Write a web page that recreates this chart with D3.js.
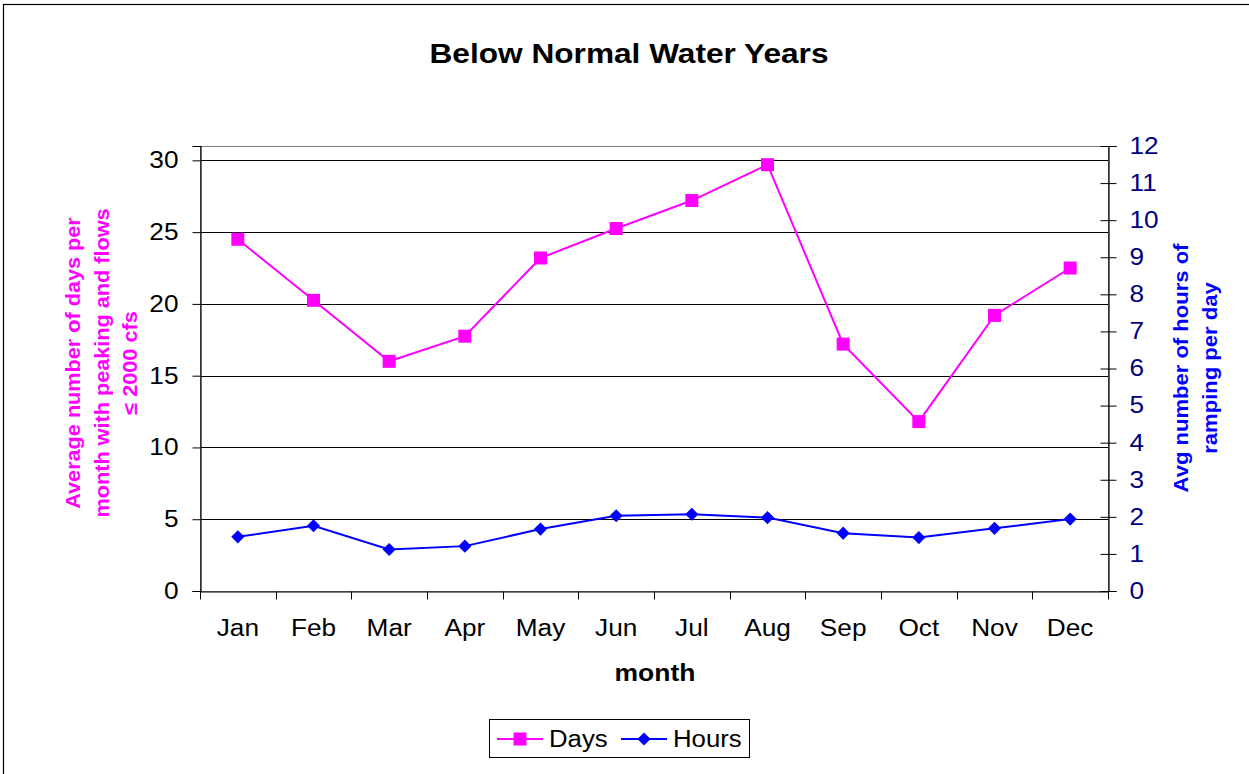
<!DOCTYPE html>
<html>
<head>
<meta charset="utf-8">
<script src="https://cdn.jsdelivr.net/npm/d3@7"></script>
<style>
    body { margin: 0; background: #fff; }
    svg { font-family: Arial, 'Liberation Sans', sans-serif; }
</style>
</head>
<body>
<div id="chart"></div>
<script>
// Chart data
var months = ['Jan', 'Feb', 'Mar', 'Apr', 'May', 'Jun', 'Jul', 'Aug', 'Sep', 'Oct', 'Nov', 'Dec'];
var days = [24.5, 20.25, 16.0, 17.75, 23.2, 25.25, 27.2, 29.7, 17.2, 11.8, 19.2, 22.5];
var hours = [1.46, 1.76, 1.12, 1.21, 1.67, 2.03, 2.07, 1.98, 1.56, 1.44, 1.69, 1.94];
var leftTicks = [0, 5, 10, 15, 20, 25, 30];
var rightTicks = [0, 1, 2, 3, 4, 5, 6, 7, 8, 9, 10, 11, 12];

// Layout
var width = 1249, height = 774,
    plotLeft = 200, plotRight = 1108,
    plotTop = 146, plotBottom = 591,
    daysColor = '#FF00FF', hoursColor = '#0000FF',
    tickFontSize = 23,
    widen = 1.14;

// Widen text along its own direction (the original font renders wider than Arial here)
function stretch(selection, factor) {
    selection.each(function() {
        var len = this.getComputedTextLength();
        d3.select(this)
            .attr('textLength', len * factor)
            .attr('lengthAdjust', 'spacingAndGlyphs');
    });
}

var svg = d3.select('#chart')
    .append('svg')
    .attr('width', width)
    .attr('height', height);

// Outer chart border
svg.append('rect')
    .attr('x', 3.5)
    .attr('y', 4.5)
    .attr('width', 1300)
    .attr('height', 900)
    .style('fill', '#fff')
    .style('stroke', '#000')
    .style('stroke-width', '1.2px');

// Scales
var x = d3.scaleBand()
    .domain(months)
    .range([plotLeft, plotRight]);
var yLeft = d3.scaleLinear()
    .domain([0, 31])
    .range([plotBottom, plotTop]);
var yRight = d3.scaleLinear()
    .domain([0, 12])
    .range([plotBottom, plotTop]);

// Gridlines
svg.append('g')
    .selectAll('line')
    .data(leftTicks.filter(d => d > 0))
    .enter()
    .append('line')
        .attr('x1', plotLeft)
        .attr('x2', plotRight)
        .attr('y1', d => Math.round(yLeft(d)) + 0.5)
        .attr('y2', d => Math.round(yLeft(d)) + 0.5)
        .style('stroke', '#000')
        .style('stroke-width', '1px');

// Plot area border
svg.append('rect')
    .attr('x', plotLeft + 0.5)
    .attr('y', plotTop + 0.5)
    .attr('width', plotRight - plotLeft)
    .attr('height', plotBottom - plotTop)
    .style('fill', 'none')
    .style('stroke', '#808080')
    .style('stroke-width', '1px');

// Left axis
var leftAxis = svg.append('g')
    .attr('transform', 'translate(' + (plotLeft + 0.5) + ',0)')
    .call(d3.axisLeft(yLeft).tickValues(leftTicks).tickSize(8).tickPadding(14));
leftAxis.selectAll('text')
    .style('font-size', tickFontSize + 'px')
    .style('fill', '#000')
    .call(stretch, widen);

// Right axis
var rightAxis = svg.append('g')
    .attr('transform', 'translate(' + (plotRight + 0.5) + ',0)')
    .call(d3.axisRight(yRight).tickValues(rightTicks).tickSize(8).tickPadding(13));
rightAxis.selectAll('.tick line')
    .attr('x1', -8);
rightAxis.selectAll('text')
    .style('font-size', tickFontSize + 'px')
    .style('fill', '#000080')
    .call(stretch, widen);

// Bottom axis with ticks between categories
var bottomAxis = svg.append('g')
    .attr('transform', 'translate(0,' + (plotBottom + 0.5) + ')')
    .call(d3.axisBottom(x).tickSize(0).tickPadding(28));
bottomAxis.selectAll('text')
    .style('font-size', tickFontSize + 'px')
    .style('fill', '#000')
    .call(stretch, widen);
bottomAxis.append('g')
    .selectAll('line')
    .data(months.concat(['end']))
    .enter()
    .append('line')
        .attr('x1', (d, i) => Math.round(plotLeft + i * x.step()) + 0.5)
        .attr('x2', (d, i) => Math.round(plotLeft + i * x.step()) + 0.5)
        .attr('y1', 0)
        .attr('y2', 8)
        .style('stroke', '#000');

[leftAxis, rightAxis, bottomAxis].forEach(axis => {
    axis.selectAll('.domain').style('stroke', '#000').style('stroke-width', '1.2px');
    axis.selectAll('.tick line').style('stroke', '#000');
});

// Days series
var daysLine = d3.line()
    .x((d, i) => x(months[i]) + x.bandwidth() / 2)
    .y(d => yLeft(d));
svg.append('path')
    .datum(days)
    .attr('d', daysLine)
    .style('fill', 'none')
    .style('stroke', daysColor)
    .style('stroke-width', '2px');
svg.append('g')
    .selectAll('rect')
    .data(days)
    .enter()
    .append('rect')
        .attr('x', (d, i) => x(months[i]) + x.bandwidth() / 2 - 6.5)
        .attr('y', d => yLeft(d) - 6.5)
        .attr('width', 13)
        .attr('height', 13)
        .style('fill', daysColor);

// Hours series
var hoursLine = d3.line()
    .x((d, i) => x(months[i]) + x.bandwidth() / 2)
    .y(d => yRight(d));
svg.append('path')
    .datum(hours)
    .attr('d', hoursLine)
    .style('fill', 'none')
    .style('stroke', hoursColor)
    .style('stroke-width', '2px');
var diamond = d3.symbol().type(d3.symbolDiamond2).size(110);
svg.append('g')
    .selectAll('path')
    .data(hours)
    .enter()
    .append('path')
        .attr('d', diamond)
        .attr('transform', (d, i) => 'translate(' + (x(months[i]) + x.bandwidth() / 2) + ',' + yRight(d) + ')')
        .style('fill', hoursColor);

// Title
svg.append('text')
    .attr('x', 629)
    .attr('y', 63)
    .attr('text-anchor', 'middle')
    .text('Below Normal Water Years')
    .style('font-size', '27.5px')
    .style('font-weight', 'bold')
    .call(stretch, 1.15);

// X axis title
svg.append('text')
    .attr('x', 655)
    .attr('y', 681)
    .attr('text-anchor', 'middle')
    .text('month')
    .style('font-size', '23px')
    .style('font-weight', 'bold')
    .call(stretch, 1.15);

// Left axis title, one text per line
var leftTitle = ['Average number of days per', 'month with peaking and flows', '\u2264 2000 cfs'];
svg.append('g')
    .attr('transform', 'translate(80,363) rotate(-90)')
    .selectAll('text')
    .data(leftTitle)
    .enter()
    .append('text')
        .attr('x', 0)
        .attr('y', (d, i) => i * 28.5)
        .attr('text-anchor', 'middle')
        .text(d => d)
        .style('font-size', '19.5px')
        .style('font-weight', 'bold')
        .style('fill', daysColor)
        .call(stretch, 1.11);

// Right axis title
var rightTitle = ['Avg number of hours of', 'ramping per day'];
svg.append('g')
    .attr('transform', 'translate(1188,368) rotate(-90)')
    .selectAll('text')
    .data(rightTitle)
    .enter()
    .append('text')
        .attr('x', 0)
        .attr('y', (d, i) => i * 28.5)
        .attr('text-anchor', 'middle')
        .text(d => d)
        .style('font-size', '19.5px')
        .style('font-weight', 'bold')
        .style('fill', hoursColor)
        .call(stretch, 1.13);

// Legend
var legend = svg.append('g');
legend.append('rect')
    .attr('x', 489.5)
    .attr('y', 719.5)
    .attr('width', 260)
    .attr('height', 38)
    .style('fill', '#fff')
    .style('stroke', '#000')
    .style('stroke-width', '1px');
var legendItems = [
    { name: 'Days', color: daysColor, x0: 497, shape: 'square' },
    { name: 'Hours', color: hoursColor, x0: 621, shape: 'diamond' }
];
legendItems.forEach(item => {
    legend.append('line')
        .attr('x1', item.x0)
        .attr('x2', item.x0 + 46)
        .attr('y1', 739)
        .attr('y2', 739)
        .style('stroke', item.color)
        .style('stroke-width', '2px');
    if(item.shape == 'square') {
        legend.append('rect')
            .attr('x', item.x0 + 23 - 6.5)
            .attr('y', 739 - 6.5)
            .attr('width', 13)
            .attr('height', 13)
            .style('fill', item.color);
    } else {
        legend.append('path')
            .attr('d', diamond)
            .attr('transform', 'translate(' + (item.x0 + 23) + ',739)')
            .style('fill', item.color);
    }
    legend.append('text')
        .attr('x', item.x0 + 52)
        .attr('y', 747)
        .text(item.name)
        .style('font-size', tickFontSize + 'px')
        .call(stretch, 1.12);
});
</script>
</body>
</html>
